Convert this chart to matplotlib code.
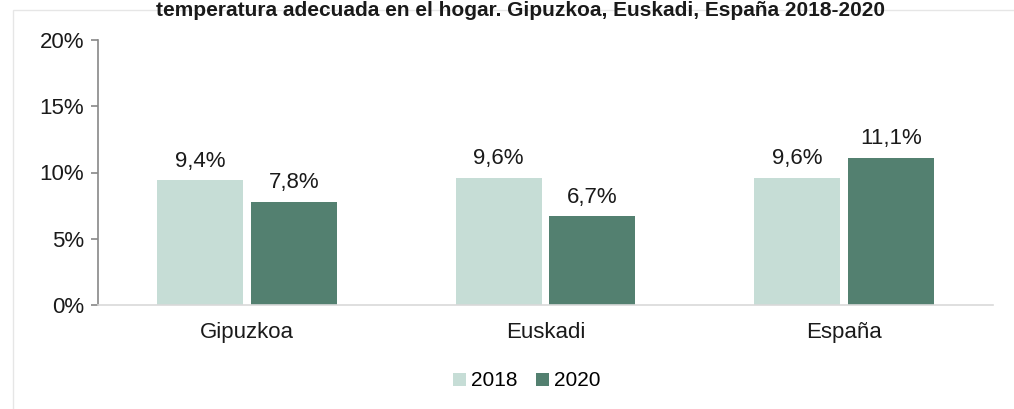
import matplotlib
matplotlib.use("Agg")
import matplotlib.pyplot as plt
import numpy as np
from matplotlib.patches import Rectangle

plt.rcParams['font.family'] = ['Liberation Sans', 'DejaVu Sans']

categories = ["Gipuzkoa", "Euskadi", "España"]
years = ["2018", "2020"]
values_2018 = [9.4, 9.6, 9.6]
values_2020 = [7.8, 6.7, 11.1]
yticks = [0, 5, 10, 15, 20]
title = "temperatura adecuada en el hogar. Gipuzkoa, Euskadi, España 2018-2020"

colors = ["#c6ddd6", "#538070"]
FS = 16

fig = plt.figure(figsize=(10.14, 4.09), dpi=100)
ax = fig.add_axes([98/1014, 1-305/409, (993-98)/1014, (305-40)/409])

x = np.arange(len(categories))
w = 0.288
off = 0.157
b1 = ax.bar(x - off, values_2018, w, color=colors[0], label=years[0])
b2 = ax.bar(x + off, values_2020, w, color=colors[1], label=years[1])

for bars, vals in ((b1, values_2018), (b2, values_2020)):
    for r, v in zip(bars, vals):
        ax.text(r.get_x() + r.get_width()/2, v + 0.65, f"{v:.1f}%".replace(".", ","),
                ha="center", va="bottom", fontsize=FS, color="#1a1a1a")

ax.set_xlim(-0.5, 2.5)
ax.set_ylim(0, 20)
ax.set_yticks(yticks)
ax.set_yticklabels([f"{t}%" for t in yticks], fontsize=FS, color="#1a1a1a")
ax.set_xticks(x)
ax.set_xticklabels(categories, fontsize=FS, color="#1a1a1a")
ax.tick_params(axis="x", length=0, pad=12)
ax.tick_params(axis="y", length=5, width=1.2, color="#888888", pad=5, direction="out")
for s in ("top", "right"):
    ax.spines[s].set_visible(False)
ax.spines["left"].set_color("#888888")
ax.spines["left"].set_linewidth(1.2)
ax.spines["bottom"].set_color("#d9d9d9")
ax.spines["bottom"].set_linewidth(1.2)

leg = fig.legend(handles=[b1, b2], labels=years, loc="center",
                 bbox_to_anchor=(527/1014, 1-381/409), ncol=2, frameon=False,
                 fontsize=15, handlelength=0.6, handleheight=0.6,
                 handletextpad=0.25, columnspacing=0.9)

fig.text(520/1014, 1-0.5/409, title, ha="center", va="top",
         fontsize=15, fontweight="bold", color="#1a1a1a")

fig.patches.append(Rectangle((13/1014, -0.1), 1.2, 1 - 10/409 + 0.1,
                             transform=fig.transFigure, fill=False,
                             edgecolor="#e6e6e6", linewidth=1, zorder=0))

fig.savefig("out.png", dpi=100)
